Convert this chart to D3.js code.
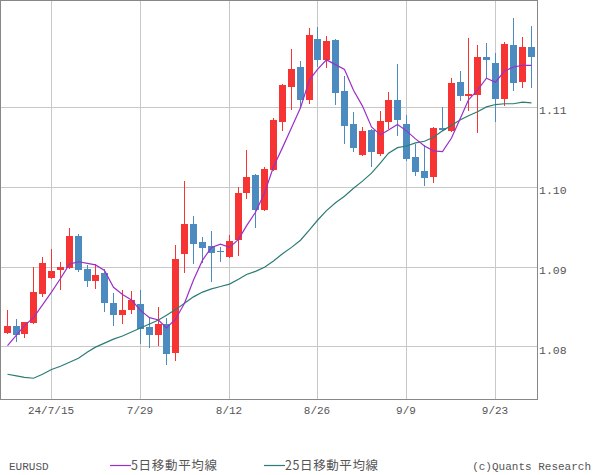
<!DOCTYPE html>
<html><head><meta charset="utf-8">
<script src="https://cdn.jsdelivr.net/npm/d3@7"></script>
<style>body{margin:0;background:#fff}svg{display:block}</style>
</head><body>
<svg id="c" width="600" height="475"></svg>
<script>
const dates = ["7/8","7/9","7/10","7/11","7/12","7/15","7/16","7/17","7/18","7/19",
"7/22","7/23","7/24","7/25","7/26","7/29","7/30","7/31","8/1","8/2",
"8/5","8/6","8/7","8/8","8/9","8/12","8/13","8/14","8/15","8/16",
"8/19","8/20","8/21","8/22","8/23","8/26","8/27","8/28","8/29","8/30",
"9/2","9/3","9/4","9/5","9/6","9/9","9/10","9/11","9/12","9/13",
"9/16","9/17","9/18","9/19","9/20","9/23","9/24","9/25","9/26","9/27"];
const open  = [1.0816,1.0825,1.0815,1.0829,1.0866,1.0886,1.0895,1.0898,1.0938,1.0897,
1.0883,1.0892,1.0854,1.0840,1.0845,1.0853,1.0824,1.0814,1.0828,1.0791,
1.0916,1.0953,1.0931,1.0926,1.0919,1.0912,1.0933,1.0992,1.1015,1.0971,
1.1021,1.1082,1.1125,1.1150,1.1109,1.1185,1.1159,1.1184,1.1120,1.1079,
1.1040,1.1071,1.1041,1.1082,1.1109,1.1079,1.1037,1.1020,1.1012,1.1074,
1.1070,1.1131,1.1113,1.1115,1.1162,1.1155,1.1110,1.1178,1.1131,1.1175];
const high  = [1.0845,1.0834,1.0831,1.0899,1.0912,1.0922,1.0906,1.0948,1.0941,1.0902,
1.0903,1.0897,1.0867,1.0870,1.0869,1.0870,1.0836,1.0849,1.0835,1.0927,
1.1007,1.0963,1.0937,1.0944,1.0924,1.0939,1.1000,1.1046,1.1016,1.1025,
1.1086,1.1129,1.1173,1.1158,1.1199,1.1200,1.1189,1.1185,1.1139,1.1094,
1.1075,1.1072,1.1095,1.1119,1.1154,1.1090,1.1054,1.1052,1.1075,1.1100,
1.1136,1.1145,1.1187,1.1178,1.1180,1.1167,1.1181,1.1212,1.1188,1.1202];
const low   = [1.0815,1.0805,1.0810,1.0828,1.0862,1.0885,1.0870,1.0897,1.0893,1.0874,
1.0872,1.0843,1.0825,1.0828,1.0841,1.0803,1.0798,1.0801,1.0777,1.0781,
1.0892,1.0903,1.0904,1.0880,1.0906,1.0911,1.0913,1.0985,1.0948,1.0970,
1.1020,1.1070,1.1096,1.1099,1.1104,1.1150,1.1149,1.1103,1.1054,1.1044,
1.1039,1.1025,1.1039,1.1072,1.1064,1.1032,1.1013,1.1001,1.1005,1.1070,
1.1069,1.1108,1.1095,1.1067,1.1135,1.1081,1.1101,1.1120,1.1124,1.1124];
const close = [1.0825,1.0814,1.0830,1.0868,1.0905,1.0895,1.0899,1.0938,1.0895,1.0882,
1.0890,1.0854,1.0839,1.0846,1.0858,1.0822,1.0814,1.0828,1.0791,1.0909,
1.0953,1.0928,1.0923,1.0917,1.0918,1.0932,1.0992,1.1012,1.0971,1.1022,
1.1084,1.1128,1.1148,1.1109,1.1190,1.1159,1.1183,1.1118,1.1076,1.1049,
1.1070,1.1044,1.1082,1.1109,1.1084,1.1035,1.1018,1.1011,1.1074,1.1072,
1.1130,1.1113,1.1116,1.1162,1.1158,1.1110,1.1179,1.1131,1.1175,1.1162];
const ma5  = [1.0801,1.0814,1.0826,1.0836,1.0852,1.0868,1.0885,1.0903,1.0906,1.0904,
1.0902,1.0895,1.0874,1.0865,1.0858,1.0845,1.0836,1.0833,1.0823,1.0834,
1.0854,1.0883,1.0908,1.0924,1.0928,1.0924,1.0934,1.0951,1.0968,1.0992,
1.1025,1.1049,1.1074,1.1099,1.1134,1.1147,1.1159,1.1153,1.1147,1.1121,
1.1101,1.1075,1.1065,1.1071,1.1078,1.1070,1.1060,1.1051,1.1045,1.1044,
1.1061,1.1086,1.1109,1.1121,1.1136,1.1131,1.1145,1.1150,1.1152,1.1152];
const ma25 = [1.0765,1.0763,1.0761,1.0760,1.0765,1.0771,1.0775,1.0780,1.0785,1.0793,
1.0799,1.0804,1.0809,1.0813,1.0818,1.0823,1.0828,1.0833,1.0839,1.0846,
1.0854,1.0862,1.0868,1.0872,1.0875,1.0878,1.0884,1.0890,1.0894,1.0899,
1.0907,1.0916,1.0924,1.0933,1.0946,1.0958,1.0970,1.0980,1.0988,1.0998,
1.1007,1.1017,1.1030,1.1042,1.1049,1.1051,1.1055,1.1057,1.1062,1.1070,
1.1077,1.1084,1.1089,1.1094,1.1100,1.1103,1.1104,1.1104,1.1106,1.1105];
const xTicks = ["7/15","7/29","8/12","8/26","9/9","9/23"];
const xTickLabels = ["24/7/15","7/29","8/12","8/26","9/9","9/23"];
const yTicks = [1.08,1.09,1.10,1.11];
const symbol = "EURUSD";
const legendNames = ["5日移動平均線","25日移動平均線"];
const credit = "(c)Quants Research";

const svg = d3.select("#c");
const W = 537, H = 399;
const x = d3.scaleBand().domain(dates).range([2.2, 535]).paddingInner(0.2).paddingOuter(0.1);
const y = d3.scaleLinear().domain([1.0734, 1.1234]).range([H, 0]);
const cx = d => Math.round(x(d) + x.bandwidth()/2);
const UP = "#f63434", DOWN = "#4b8bbf", C5 = "#9b30c8", C25 = "#2a7d74";
const mono = "'Liberation Mono','DejaVu Sans Mono',monospace";

const g = svg.append("g").attr("shape-rendering","crispEdges");
// grid
g.selectAll(".gy").data(yTicks).join("line")
  .attr("x1",0).attr("x2",W).attr("y1",d=>Math.round(y(d))+0.5).attr("y2",d=>Math.round(y(d))+0.5)
  .attr("stroke","#c8c8c8");
g.selectAll(".gx").data(xTicks).join("line")
  .attr("y1",0).attr("y2",H).attr("x1",d=>cx(d)+0.5).attr("x2",d=>cx(d)+0.5)
  .attr("stroke","#c8c8c8");

// candles
const idx = d3.range(dates.length);
const cg = g.append("g");
cg.selectAll("line.w").data(idx).join("line")
  .attr("x1",i=>cx(dates[i])+0.5).attr("x2",i=>cx(dates[i])+0.5)
  .attr("y1",i=>y(high[i])).attr("y2",i=>y(low[i]))
  .attr("stroke",i=>close[i]>=open[i]?UP:DOWN);
cg.selectAll("rect").data(idx).join("rect")
  .attr("x",i=>cx(dates[i])-3).attr("width",7)
  .attr("y",i=>Math.round(y(Math.max(open[i],close[i]))))
  .attr("height",i=>Math.max(1,Math.round(Math.abs(y(open[i])-y(close[i])))))
  .attr("fill",i=>close[i]>=open[i]?UP:DOWN);

// MAs
const line = arr => d3.line().x((v,i)=>cx(dates[i])+0.5).y(v=>y(v))(arr);
svg.append("path").attr("d",line(ma25)).attr("fill","none").attr("stroke",C25).attr("stroke-width",1.2);
svg.append("path").attr("d",line(ma5)).attr("fill","none").attr("stroke",C5).attr("stroke-width",1.2);

// frame
g.append("rect").attr("x",0.5).attr("y",0.5).attr("width",W).attr("height",H)
  .attr("fill","none").attr("stroke","#888");

// y labels
svg.selectAll(".yl").data(yTicks).join("text")
  .attr("x",W+2).attr("y",d=>y(d)+7.5)
  .attr("font-family",mono).attr("font-size",11.5).attr("fill","#555")
  .text(d=>d.toFixed(2));
// x labels
svg.selectAll(".xl").data(xTicks).join("text")
  .attr("x",d=>cx(d)).attr("y",414).attr("text-anchor","middle")
  .attr("font-family",mono).attr("font-size",11).attr("fill","#555")
  .text((d,i)=>xTickLabels[i]);

// legend
const ly = 470;
svg.append("text").attr("x",9).attr("y",ly).attr("font-family",mono).attr("font-size",11).attr("fill","#555").text(symbol);
svg.append("line").attr("x1",110).attr("x2",131).attr("y1",ly-4.5).attr("y2",ly-4.5).attr("stroke",C5).attr("stroke-width",1.2);
svg.append("text").attr("x",131).attr("y",ly).attr("font-family","'Noto Sans CJK JP',sans-serif").attr("font-size",12.5).attr("fill","#555").attr("textLength",86).text(legendNames[0]);
svg.append("line").attr("x1",264).attr("x2",285).attr("y1",ly-4.5).attr("y2",ly-4.5).attr("stroke",C25).attr("stroke-width",1.2);
svg.append("text").attr("x",285).attr("y",ly).attr("font-family","'Noto Sans CJK JP',sans-serif").attr("font-size",12.5).attr("fill","#555").attr("textLength",93).text(legendNames[1]);
svg.append("text").attr("x",591).attr("y",ly).attr("text-anchor","end").attr("font-family",mono).attr("font-size",11).attr("fill","#555").text(credit);
</script>
</body></html>
